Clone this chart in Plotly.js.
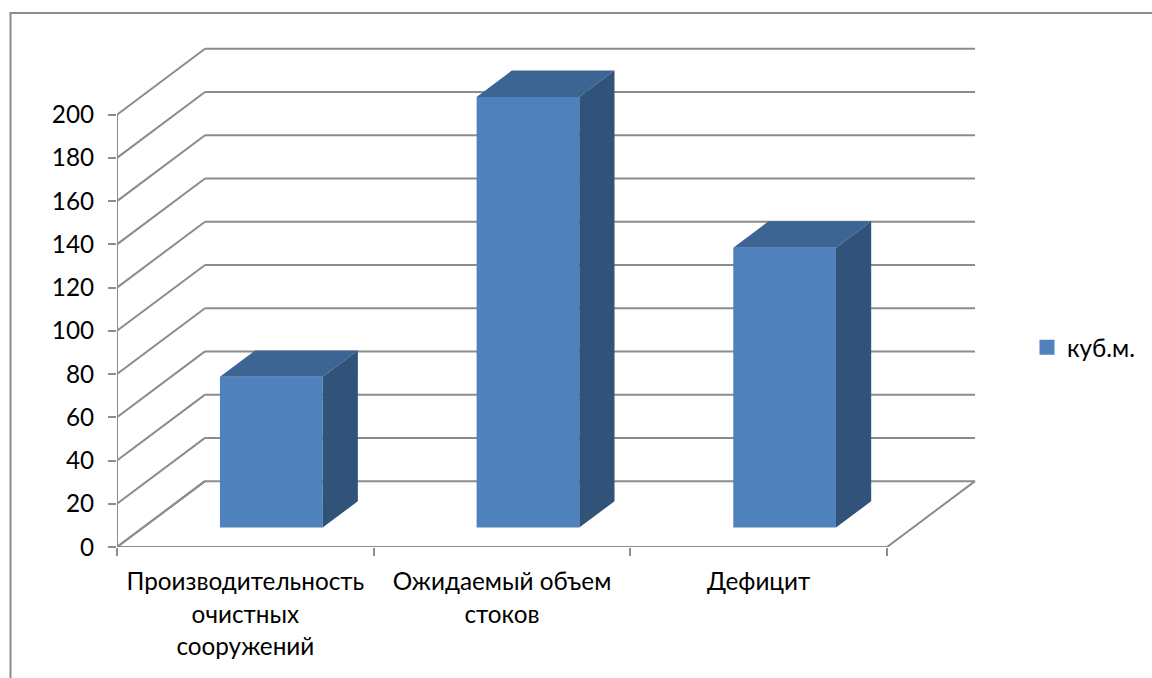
<!DOCTYPE html>
<html><head><meta charset="utf-8">
<script src="https://cdn.plot.ly/plotly-3.0.1.min.js"></script>
<style>html,body{margin:0;padding:0;background:#fff}#c{width:1152px;height:678px}</style>
</head><body><div id="c"></div>
<script>
var categoryLines = [["Производительность","очистных","сооружений"], ["Ожидаемый объем","стоков"], ["Дефицит"]];
var values = [70, 200, 130];
var seriesName = "куб.м.";
var yTicks = [0,20,40,60,80,100,120,140,160,180,200];
var catPos = [0,1,2];

var categories = categoryLines.map(function(ls){
  return ls.map(function(s){return '<span style="font-size:24.3px">'+s+'</span>';}).join('<br>');
});

var FONT = "Lato, 'Open Sans', sans-serif";
var GRID = "#8c8c8c", FRONT="#4f81bd", TOP="#3d6594", SIDE="#325379";
var X0PX = 117, UNIT = 256.67, YSCALE = 2.166, FLOORPX = 547.5;
var depthX = 88/UNIT, depthY = 66/YSCALE;
var barW = 102.7/UNIT, d0 = 0.295, d1 = 0.695, heightScale = 0.996;

function px(c,d){return c + d*depthX;}
function py(v,d){return v + d*depthY;}

var PLOTW = 861, PLOTH = 520;
var traces = [];
traces.push({type:'bar', showlegend:false, x:catPos.map(function(c){return px(c,d0);}),
  y:values.map(function(v){return v*heightScale;}), base:values.map(function(){return py(0,d0);}), width:barW,
  marker:{color:FRONT,line:{width:0}}, hoverinfo:'skip'});
traces.push({type:'bar', name:seriesName, x:[null], y:[null], marker:{color:FRONT,line:{width:3,color:FRONT}}, showlegend:true, hoverinfo:'skip'});

values.forEach(function(v,i){
  var c = px(catPos[i],d0), l=c-barW/2, r=c+barW/2, b=py(0,d0), t=b+v*heightScale;
  var dx=(d1-d0)*depthX, dy=(d1-d0)*depthY;
  traces.push({type:'scatter',mode:'lines',x:[l,r,r+dx,l+dx,l],y:[t,t,t+dy,t+dy,t],fill:'toself',fillcolor:TOP,
    line:{width:0,color:TOP},showlegend:false,hoverinfo:'skip',cliponaxis:false});
  traces.push({type:'scatter',mode:'lines',x:[r,r+dx,r+dx,r,r],y:[b,b+dy,t+dy,t,b],fill:'toself',fillcolor:SIDE,
    line:{width:0,color:SIDE},showlegend:false,hoverinfo:'skip',cliponaxis:false});
});
var L0=-0.5, R0=2.5;
traces.push({type:'scatter',mode:'lines',x:[L0,L0],y:[0,200],line:{color:GRID,width:2},showlegend:false,hoverinfo:'skip',cliponaxis:false});
traces.push({type:'scatter',mode:'lines',x:[L0,px(L0,1)],y:[0,py(0,1)],line:{color:GRID,width:2},showlegend:false,hoverinfo:'skip',cliponaxis:false});
traces.push({type:'scatter',mode:'lines',x:[L0,R0,px(R0,1)],y:[0,0,py(0,1)],line:{color:GRID,width:2},showlegend:false,hoverinfo:'skip',cliponaxis:false});

var shapes = [{type:'rect',xref:'paper',yref:'paper',
  x0:(10.5-X0PX)/PLOTW, x1:(1170-X0PX)/PLOTW, y0:(FLOORPX-700)/PLOTH, y1:(FLOORPX-12.5)/PLOTH,
  line:{color:GRID,width:2},fillcolor:'rgba(0,0,0,0)',layer:'below'}];
yTicks.forEach(function(v){
  shapes.push({type:'line',xref:'x',yref:'y',layer:'below',x0:L0,y0:v,x1:px(L0,1),y1:py(v,1),line:{color:GRID,width:2}});
  shapes.push({type:'line',xref:'x',yref:'y',layer:'below',x0:px(L0,1),y0:py(v,1),x1:px(R0,1),y1:py(v,1),line:{color:GRID,width:2}});
});

var layout = {
  width:1152,height:678,autosize:false,paper_bgcolor:'#fff',plot_bgcolor:'rgba(0,0,0,0)',
  margin:{l:X0PX,r:1152-X0PX-PLOTW,t:FLOORPX-PLOTH,b:678-FLOORPX,pad:0},
  font:{family:FONT,color:'#000',size:24.3},
  barmode:'overlay',
  xaxis:{range:[L0,L0+PLOTW/UNIT],tickmode:'array',tickvals:catPos,ticktext:categories,ticks:'',showgrid:false,zeroline:false,showline:false,
    tickangle:0,tickfont:{family:FONT,size:25,color:'#000'},ticklabelstandoff:17,
    minor:{tickmode:'array',tickvals:[-0.5,0.5,1.5,2.5],ticks:'outside',ticklen:8,tickwidth:2,tickcolor:GRID,showgrid:false}},
  yaxis:{range:[0,PLOTH/YSCALE],tickmode:'array',tickvals:yTicks,ticktext:yTicks.map(String),ticks:'outside',ticklen:8,tickwidth:2,tickcolor:GRID,
    showgrid:false,zeroline:false,showline:false,tickfont:{family:FONT,size:24.3,color:'#000'},ticklabelstandoff:9},
  legend:{x:(1027-X0PX)/PLOTW,xanchor:'left',y:(FLOORPX-347.5)/PLOTH,yanchor:'middle',font:{family:FONT,size:24.3,color:'#000'},bgcolor:'rgba(0,0,0,0)'},
  shapes:shapes,hovermode:false
};
Plotly.newPlot('c',traces,layout,{displayModeBar:false,staticPlot:true});
</script></body></html>
